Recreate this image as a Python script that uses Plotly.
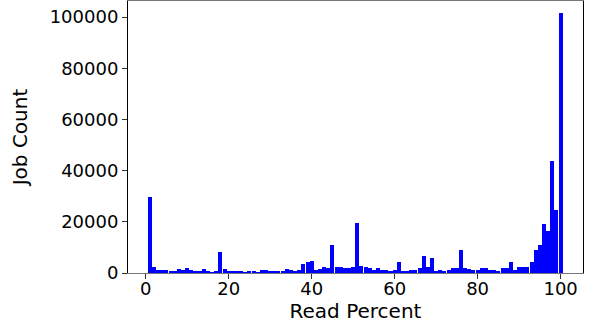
import plotly.graph_objects as go

read_percent = list(range(1, 101))
job_count = [
    29800, 2200, 1050, 1050, 1050, 650, 650, 1550, 1050, 1950,
    1050, 650, 650, 1550, 650, 300, 650, 8300, 1400, 650,
    650, 650, 650, 300, 650, 650, 300, 1000, 1000, 650,
    650, 650, 650, 1500, 1000, 650, 1000, 3400, 4200, 4600,
    1000, 1500, 2200, 1900, 11000, 2200, 2200, 1900, 1900, 2200,
    19650, 2800, 2200, 1800, 1000, 2100, 1000, 1000, 650, 1000,
    4400, 650, 650, 1000, 1000, 2100, 6800, 2450, 5700, 650,
    1000, 650, 1350, 2100, 2100, 9100, 2100, 1700, 1350, 1350,
    2100, 2100, 1350, 1300, 900, 1950, 1950, 4400, 1300, 2450,
    2450, 2450, 4400, 9100, 11000, 19000, 16500, 43900, 24700, 101800,
]
x_ticks = [0, 20, 40, 60, 80, 100]
y_ticks = [0, 20000, 40000, 60000, 80000, 100000]

fig = go.Figure(
    go.Bar(x=read_percent, y=job_count, marker=dict(color="#0000ff", line=dict(width=0)),
           width=0.97)
)

font = "DejaVu Sans"
fig.update_layout(
    width=591, height=324,
    margin=dict(l=128, r=8, t=1, b=51),
    paper_bgcolor="white", plot_bgcolor="white",
    showlegend=False,
    bargap=0,
    font=dict(family=font, color="black"),
)
fig.update_xaxes(
    range=[-4.27, 105.4],
    tickmode="array", tickvals=x_ticks, ticktext=[str(v) for v in x_ticks],
    tickfont=dict(size=18, family=font),
    ticks="outside", ticklen=5, tickcolor="#333",
    ticklabelstandoff=-6,
    showline=True, linecolor="#777", linewidth=1, mirror=True,
    showgrid=False, zeroline=False,
    title=dict(text="Read Percent", font=dict(size=20, family=font), standoff=4),
)
fig.update_yaxes(
    range=[0, 106300],
    tickmode="array", tickvals=y_ticks, ticktext=[str(v) for v in y_ticks],
    tickfont=dict(size=18, family=font),
    ticks="outside", ticklen=5, tickcolor="#333",
    showline=True, linecolor="black", linewidth=1, mirror=True,
    showgrid=False, zeroline=False,
    title=dict(text="Job Count", font=dict(size=20, family=font), standoff=16),
)

fig.write_html("out.html")
